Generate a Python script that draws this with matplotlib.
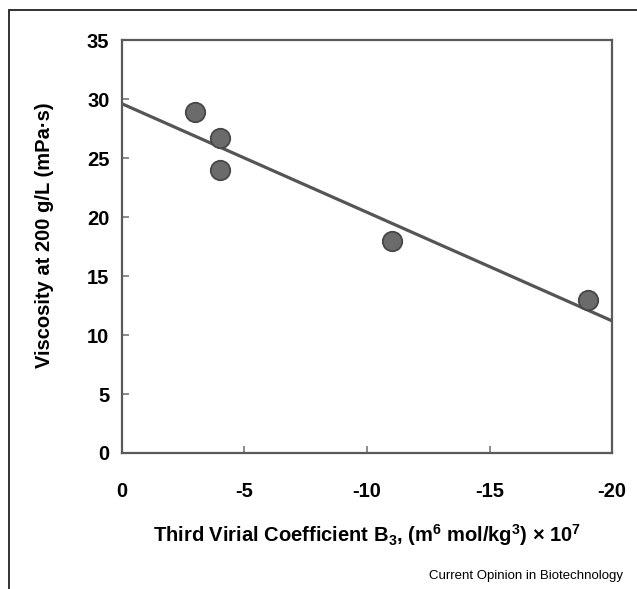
import matplotlib

matplotlib.use("Agg")
import matplotlib.pyplot as plt
from matplotlib.patches import Rectangle

plt.rcParams["font.family"] = ["Liberation Sans", "DejaVu Sans"]
plt.rcParams["mathtext.fontset"] = "custom"
plt.rcParams["mathtext.rm"] = "Liberation Sans:bold"
plt.rcParams["mathtext.bf"] = "Liberation Sans:bold"
plt.rcParams["axes.unicode_minus"] = False

# data
b3_values = [-3.0, -4.0, -4.0, -11.0, -19.0]
viscosity = [28.9, 26.7, 24.0, 18.0, 13.0]
fit_x = [0.0, -20.0]
fit_y = [29.6, 11.2]
x_ticks = [0, -5, -10, -15, -20]
y_ticks = [0, 5, 10, 15, 20, 25, 30, 35]

SPINE = "#5a5a5a"

fig = plt.figure(figsize=(6.37, 5.89), dpi=100)
ax = fig.add_axes([0.1915, 0.2309, 0.7693, 0.7011])

ax.plot(fit_x, fit_y, color="#555555", linewidth=2.3, zorder=2)
ax.plot(b3_values, viscosity, linestyle="none", marker="o", markersize=14,
        markerfacecolor="#6b6b6b", markeredgecolor="#474747",
        markeredgewidth=1.3, zorder=3)

ax.set_xlim(0, -20)
ax.set_ylim(0, 35)
ax.set_xticks(x_ticks)
ax.set_yticks(y_ticks)
ax.tick_params(direction="in", length=5, width=1.2, color="#777777",
               labelsize=14.5)
ax.tick_params(axis="x", pad=21)
ax.tick_params(axis="y", pad=9)
for lbl in ax.get_xticklabels() + ax.get_yticklabels():
    lbl.set_fontweight("bold")
for side in ax.spines.values():
    side.set_color(SPINE)
    side.set_linewidth(1.6)

ax.set_xlabel(r"Third Virial Coefficient B$_3$, (m$^6$ mol/kg$^3$) $\times$ 10$^7$",
              fontsize=14.5, fontweight="bold", labelpad=15)
ax.set_ylabel("Viscosity at 200 g/L (mPa·s)", fontsize=14.5, fontweight="bold")
ax.yaxis.set_label_coords(-0.138, 0.528)

fig.text(0.978, 0.012, "Current Opinion in Biotechnology", ha="right",
         va="bottom", fontsize=9.5)

# outer frame, open at right and bottom like the source crop
fig.add_artist(Rectangle((9 / 637, -0.2), 1.2, 1.2 - 10 / 589,
                         transform=fig.transFigure, fill=False,
                         edgecolor="#222222", linewidth=1.3))

fig.savefig("out.png", dpi=100)
